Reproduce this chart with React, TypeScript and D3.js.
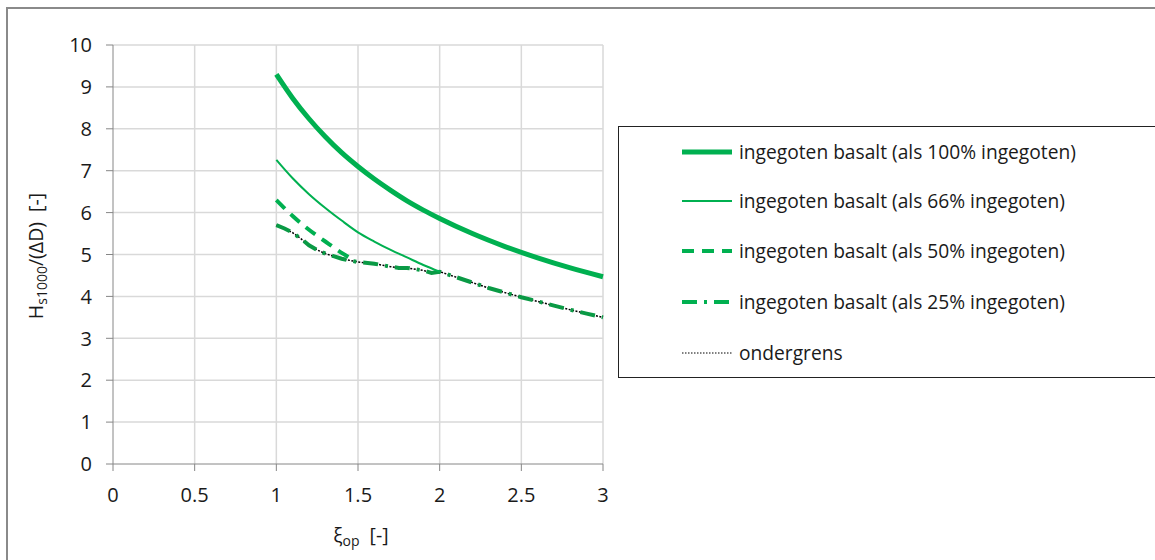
import React from 'react';
import * as d3 from "d3";

// values
const xi = [1.0, 1.1, 1.2, 1.3, 1.4, 1.5, 1.6, 1.7, 1.8, 1.9, 2.0, 2.2, 2.4, 2.6, 2.8, 3.0];
const full100 = [9.30, 8.73, 8.24, 7.81, 7.43, 7.10, 6.80, 6.53, 6.28, 6.06, 5.86, 5.50, 5.19, 4.92, 4.68, 4.47];

const xi66 = [1.0, 1.1, 1.2, 1.3, 1.4, 1.5, 1.6, 1.7, 1.8, 1.9, 2.0];
const part66 = [7.26, 6.82, 6.44, 6.11, 5.81, 5.53, 5.31, 5.11, 4.93, 4.75, 4.59];

const xi50 = [1.0, 1.1, 1.2, 1.3, 1.4, 1.45];
const part50 = [6.30, 5.92, 5.59, 5.31, 5.04, 4.92];

const xiLow = [1.0, 1.05, 1.1, 1.15, 1.2, 1.25, 1.3, 1.35, 1.4, 1.45, 1.5, 1.6, 1.7, 1.75, 1.8, 1.9, 1.95, 2.0,
    2.1, 2.2, 2.3, 2.4, 2.5, 2.6, 2.7, 2.8, 2.9, 3.0];
const ondergrens = [5.70, 5.62, 5.52, 5.38, 5.22, 5.11, 5.02, 4.96, 4.90, 4.86, 4.82, 4.78, 4.71, 4.68, 4.68, 4.62, 4.56, 4.59,
    4.46, 4.33, 4.20, 4.09, 3.98, 3.88, 3.78, 3.68, 3.59, 3.50];
// 25% follows the lower limit
const part25 = ondergrens;

const xTicks = [0, 0.5, 1, 1.5, 2, 2.5, 3];
const yTicks = [0, 1, 2, 3, 4, 5, 6, 7, 8, 9, 10];

const legendLabels = [
    "ingegoten basalt (als 100% ingegoten)",
    "ingegoten basalt (als 66% ingegoten)",
    "ingegoten basalt (als 50% ingegoten)",
    "ingegoten basalt (als 25% ingegoten)",
    "ondergrens",
];

const green = "#00B050";
const font = "'Open Sans', Lato, sans-serif";
const ink = "#1a1a1a";

const App = () => {
    const width = 1155, height = 560;
    const left = 113, right = 603, top = 45, bottom = 464;

    const x = d3.scaleLinear().domain([0, 3]).range([left, right]);
    const y = d3.scaleLinear().domain([0, 10]).range([bottom, top]);

    const mk = (xs: number[], ys: number[], curve = d3.curveMonotoneX) =>
        d3.line<number>().curve(curve).x((_, i) => x(xs[i])).y(d => y(d))(ys) || "";

    const series = [
        { d: mk(xi, full100), w: 5, dash: "none", color: green },
        { d: mk(xi66, part66), w: 2, dash: "none", color: green },
        { d: mk(xi50, part50), w: 4, dash: "12,8", color: green },
        { d: mk(xiLow, part25, d3.curveLinear), w: 4, dash: "15,7,3,7", color: "#0a9a45" },
        { d: mk(xiLow, ondergrens, d3.curveLinear), w: 1.5, dash: "2,1.5", color: "#000" },
    ];

    const legendY = [152, 201, 251, 302, 353];

    return (
        <svg width={width} height={height} style={{ position: "absolute", left: 0, top: 0, background: "#fff" }}
            fontFamily={font}>
            {/* outer frame */}
            <rect x={7} y={8} width={width + 10} height={height + 10} fill="none" stroke="#8a8a8a" strokeWidth={2} />

            {/* grid */}
            {xTicks.filter(t => t > 0).map(t => (
                <line key={"gx" + t} x1={x(t)} x2={x(t)} y1={top} y2={bottom} stroke="#d9d9d9" strokeWidth={1.5} />
            ))}
            {yTicks.filter(t => t > 0).map(t => (
                <line key={"gy" + t} x1={left} x2={right} y1={y(t)} y2={y(t)} stroke="#d9d9d9" strokeWidth={1.5} />
            ))}

            {/* axes */}
            <line x1={left} x2={left} y1={top} y2={bottom} stroke="#868686" />
            <line x1={left} x2={right} y1={bottom} y2={bottom} stroke="#868686" />
            {yTicks.map(t => (
                <g key={"ty" + t}>
                    <line x1={left - 7} x2={left} y1={y(t)} y2={y(t)} stroke="#868686" />
                    <text x={left - 21} y={y(t)} dy="0.36em" textAnchor="end" fontSize={20} fill={ink}>{t}</text>
                </g>
            ))}
            {xTicks.map(t => (
                <g key={"tx" + t}>
                    <line x1={x(t)} x2={x(t)} y1={bottom} y2={bottom + 7} stroke="#868686" />
                    <text x={x(t)} y={bottom + 38} textAnchor="middle" fontSize={20} fill={ink}>{t}</text>
                </g>
            ))}

            {/* axis titles */}
            <text transform={`translate(43,256) rotate(-90)`} textAnchor="middle" fontSize={19.5} fill={ink}>
                H<tspan fontSize={14} dy={4}>s1000</tspan><tspan dy={-4}>/(ΔD)</tspan><tspan dx={10}>[-]</tspan>
            </text>
            <text x={361} y={542} textAnchor="middle" fontSize={19.5} fill={ink}>
                ξ<tspan fontSize={14} dy={4}>op</tspan><tspan dy={-4} dx={10}>[-]</tspan>
            </text>

            {/* curves */}
            {series.slice().reverse().map((s, i) => (
                <path key={"s" + i} d={s.d} fill="none" stroke={s.color} strokeWidth={s.w}
                    strokeDasharray={s.dash} />
            ))}

            {/* legend */}
            <rect x={618.5} y={126.5} width={560} height={251} fill="#fff" stroke="#222" strokeWidth={1} />
            {series.map((s, i) => (
                <g key={"lg" + i}>
                    <line x1={682} x2={732} y1={legendY[i]} y2={legendY[i]} stroke={i === 3 ? green : s.color}
                        strokeWidth={i === 4 ? 1 : s.w} strokeDasharray={i === 4 ? "1.5,1.5" : s.dash} />
                    <text x={739} y={legendY[i]} dy="0.36em" fontSize={19.2} fill={ink}>{legendLabels[i]}</text>
                </g>
            ))}
        </svg>
    );
};

export default App;
